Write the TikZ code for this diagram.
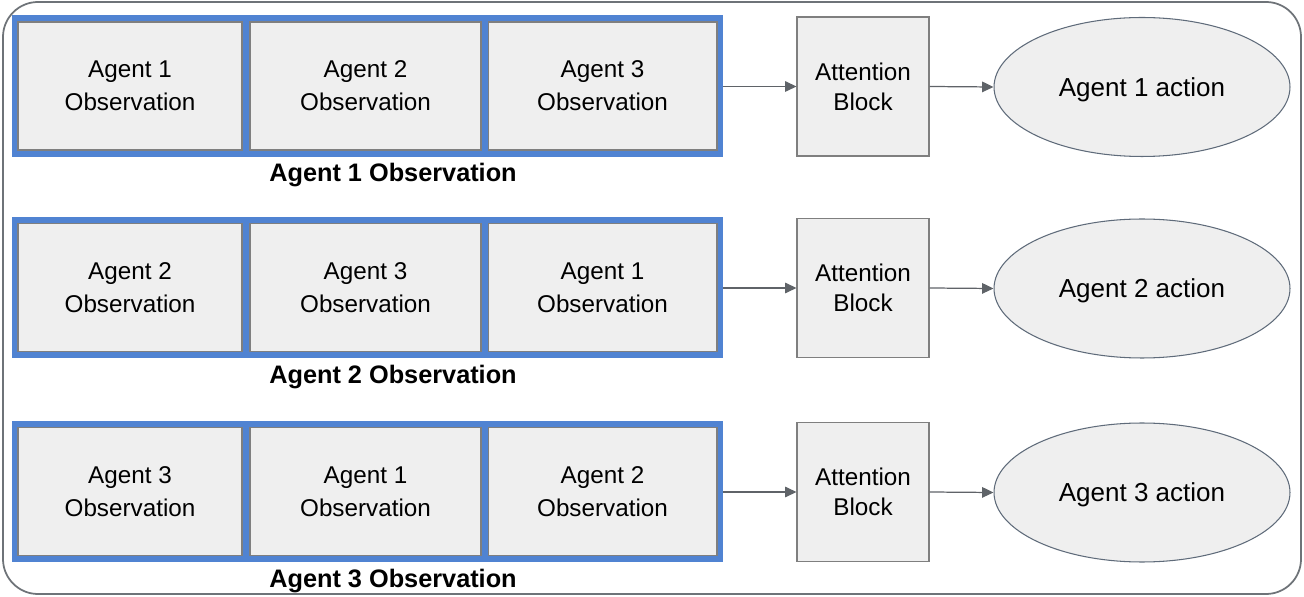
\documentclass[tikz,border=0pt]{standalone}
\usepackage{fontspec}
\setmainfont{Liberation Sans}
\usetikzlibrary{arrows.meta,shapes.geometric}
\definecolor{frameblue}{HTML}{5083D2}
\definecolor{cellfill}{HTML}{EFEFEF}
\definecolor{cellline}{HTML}{7F7F7F}
\definecolor{ovalline}{HTML}{5F6B7A}
\definecolor{linkgray}{HTML}{5F6368}
\definecolor{outerline}{HTML}{6E7378}
\begin{document}
\begin{tikzpicture}[x=0.02cm,y=-0.02cm,
  obsframe/.style={rectangle,fill=frameblue,inner sep=0pt,minimum width=14.22cm,minimum height=2.84cm},
  obscell/.style={rectangle,fill=cellfill,draw=cellline,line width=0.6pt,inner sep=0pt,
    minimum height=2.56cm,align=center,font=\fontsize{13.8}{18.7}\selectfont},
  attnbox/.style={rectangle,fill=cellfill,draw=cellline,line width=0.6pt,inner sep=0pt,
    minimum width=2.64cm,minimum height=2.78cm,align=center,font=\fontsize{13.8}{17}\selectfont},
  actoval/.style={ellipse,fill=cellfill,draw=ovalline,line width=0.6pt,inner sep=0pt,
    minimum width=5.92cm,minimum height=2.78cm,text depth=0pt,font=\fontsize{14.8}{18}\selectfont},
  rowlabel/.style={font=\fontsize{14.4}{17}\selectfont\bfseries,inner sep=0pt},
  link/.style={draw=linkgray,line width=0.7pt,-{Triangle[length=6.5pt,width=6pt]}}]
\useasboundingbox (0,0) rectangle (1304,597);
% outer rounded border
\draw[outerline,line width=1pt,rounded corners=0.7cm] (3,2) rectangle (1301,594);
% three rows: observation frame, attention block, action
\foreach \r/\yc/\a/\b/\c in {1/86/1/2/3, 2/287.5/2/3/1, 3/491.5/3/1/2}{
  \node[obsframe] (frame\r) at (367.5,\yc) {};
  \node[obscell,minimum width=4.48cm] (cellA\r) at (130,\yc) {Agent \a\\Observation};
  \node[obscell,minimum width=4.62cm] (cellB\r) at (365.5,\yc) {Agent \b\\Observation};
  \node[obscell,minimum width=4.58cm] (cellC\r) at (602.5,\yc) {Agent \c\\Observation};
  \node[rowlabel] (label\r) at (393,\yc+89.5) {Agent \r\ Observation};
  \node[attnbox] (attn\r) at (863,\yc+0.5) {Attention\\Block};
  \node[actoval] (act\r) at (1142,\yc+1) {Agent \r\ action};
  \draw[link] (frame\r.east |- attn\r.west) -- (attn\r.west);
  \draw[link] (attn\r.east) -- (act\r.west);
}
\end{tikzpicture}
\end{document}
